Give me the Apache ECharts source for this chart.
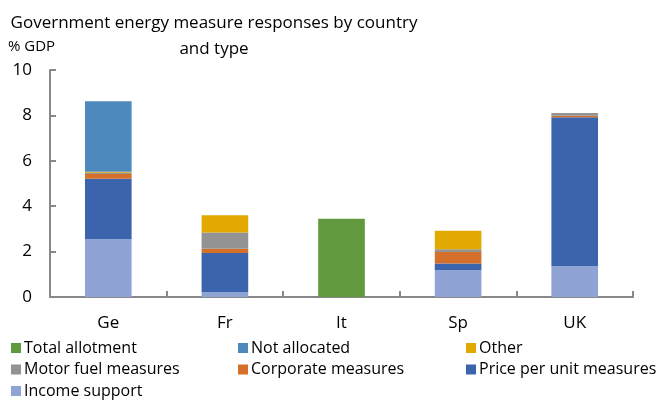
<!DOCTYPE html>
<html>
<head>
<meta charset="utf-8">
<script src="https://cdn.jsdelivr.net/npm/echarts@6/dist/echarts.min.js"></script>
<style>
  html, body { margin: 0; padding: 0; background: #fff; }
  #chart { width: 662px; height: 403px; }
</style>
</head>
<body>
<div id="chart"></div>
<script>
const countries = ['Ge', 'Fr', 'It', 'Sp', 'UK'];
const incomeSupport = [2.55, 0.22, null, 1.18, 1.35];
const pricePerUnit = [2.66, 1.72, null, 0.30, 6.57];
const corporate = [0.21, 0.19, null, 0.50, 0.06];
const motorFuel = [0.05, 0.71, null, 0.12, 0.13];
const other = [0.05, 0.76, null, 0.82, null];
const notAllocated = [3.10, null, null, null, null];
const totalAllotment = [null, null, 3.45, null, null];
const yTicks = [0, 2, 4, 6, 8, 10];

const FONT = 'Open Sans';
const myChart = echarts.init(document.getElementById('chart'));

function bar(name, data, color) {
  return {
    name: name,
    type: 'bar',
    stack: 'total',
    barWidth: '40%',
    itemStyle: { color: color },
    data: data
  };
}

const legendBase = {
  orient: 'vertical',
  icon: 'rect',
  itemWidth: 10,
  itemHeight: 10,
  itemGap: 5.5,
  textStyle: { color: '#000', fontFamily: FONT, fontSize: 16, padding: [0, 0, 0, -2] },
  top: 340,
  padding: 0
};

myChart.setOption({
  animation: false,
  title: {
    text: 'Government energy measure responses by country\nand type',
    left: 209,
    top: 5,
    textAlign: 'center',
    textStyle: {
      color: '#000',
      fontFamily: FONT,
      fontWeight: 'normal',
      fontSize: 17,
      lineHeight: 26,
      align: 'center'
    }
  },
  graphic: [{
    type: 'text',
    left: 8,
    top: 39,
    style: { text: '% GDP', fill: '#000', font: '15px "Open Sans"' }
  }],
  legend: [
    Object.assign({}, legendBase, { left: 11, data: ['Total allotment', 'Motor fuel measures', 'Income support'] }),
    Object.assign({}, legendBase, { left: 238, data: ['Not allocated', 'Corporate measures'] }),
    Object.assign({}, legendBase, { left: 466, data: ['Other', 'Price per unit measures'] })
  ],
  grid: { left: 50, right: 29, top: 70, bottom: 106 },
  xAxis: {
    type: 'category',
    data: countries,
    axisLine: { lineStyle: { color: '#888', width: 2 } },
    axisTick: { show: true, inside: true, length: 6, lineStyle: { color: '#888', width: 2 } },
    axisLabel: { color: '#000', fontFamily: FONT, fontSize: 17, margin: 18 }
  },
  yAxis: {
    type: 'value',
    min: yTicks[0],
    max: yTicks[yTicks.length - 1],
    interval: 2,
    axisLine: { show: true, lineStyle: { color: '#888', width: 2 } },
    axisTick: { show: true, inside: true, length: 6, lineStyle: { color: '#888', width: 2 } },
    splitLine: { show: false },
    axisLabel: { color: '#000', fontFamily: FONT, fontSize: 17, margin: 18 }
  },
  series: [
    bar('Income support', incomeSupport, '#8FA3D4'),
    bar('Price per unit measures', pricePerUnit, '#3C64AC'),
    bar('Corporate measures', corporate, '#D5702B'),
    bar('Motor fuel measures', motorFuel, '#939393'),
    bar('Other', other, '#E2AA00'),
    bar('Not allocated', notAllocated, '#4E89BD'),
    bar('Total allotment', totalAllotment, '#62993E')
  ]
});
</script>
</body>
</html>
